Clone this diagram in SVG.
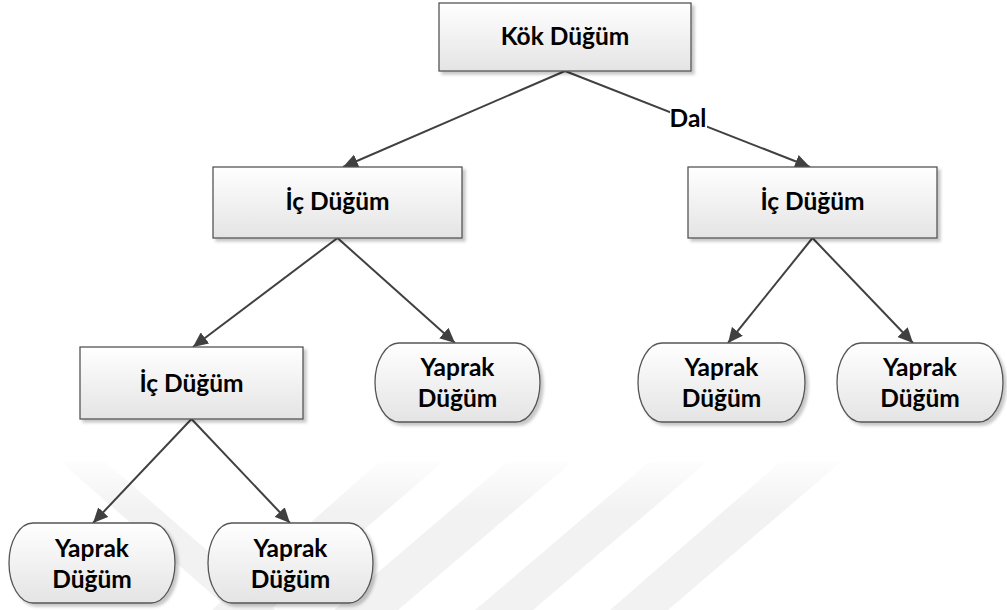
<svg xmlns="http://www.w3.org/2000/svg" width="1007" height="610" viewBox="0 0 1007 610">
  <defs>
    <linearGradient id="boxGrad" x1="0" y1="0" x2="0" y2="1">
      <stop offset="0" stop-color="#ffffff"/>
      <stop offset="1" stop-color="#e4e4e4"/>
    </linearGradient>
    <linearGradient id="wmGrad" gradientUnits="userSpaceOnUse" x1="0" y1="455" x2="0" y2="510">
      <stop offset="0" stop-color="#f2f2f2" stop-opacity="0"/>
      <stop offset="1" stop-color="#f2f2f2" stop-opacity="1"/>
    </linearGradient>
    <filter id="shadow" x="-10%" y="-10%" width="130%" height="140%">
      <feDropShadow dx="3" dy="3" stdDeviation="1.5" flood-color="#000000" flood-opacity="0.22"/>
    </filter>
    <marker id="arrow" markerUnits="userSpaceOnUse" markerWidth="16" markerHeight="14" refX="15" refY="7" orient="auto">
      <path d="M0,0 L15,7 L0,14 Z" fill="#404040"/>
    </marker>
  </defs>
  <style>
    .box { fill: url(#boxGrad); stroke: #555555; stroke-width: 1.3; filter: url(#shadow); }
    .lbl { font-family: Lato, "Open Sans", "Liberation Sans", sans-serif; font-weight: bold; font-size: 24.5px; fill: #000000; text-anchor: middle; }
    .edge { stroke: #404040; stroke-width: 2; fill: none; marker-end: url(#arrow); }
    .wm { fill: url(#wmGrad); }
  </style>
  <rect x="0" y="0" width="1007" height="610" fill="#ffffff"/>

  <g id="watermark">
    <polygon class="wm" points="61,462 106,462 275,610 230,610"/>
    <polygon class="wm" points="379,462 443,462 270,610 212,610"/>
    <polygon class="wm" points="507,462 572,462 398,610 334,610"/>
    <polygon class="wm" points="649,462 707,462 533,610 475,610"/>
    <polygon class="wm" points="780,462 841,462 668,610 610,610"/>
  </g>

  <g id="connectors">
    <line class="edge" x1="565" y1="71" x2="343" y2="167"/>
    <line class="edge" x1="565" y1="71" x2="810" y2="167"/>
    <line class="edge" x1="337.5" y1="238" x2="193" y2="347"/>
    <line class="edge" x1="337.5" y1="238" x2="455" y2="343"/>
    <line class="edge" x1="812.5" y1="238" x2="728" y2="343"/>
    <line class="edge" x1="812.5" y1="238" x2="913" y2="343"/>
    <line class="edge" x1="191.5" y1="419" x2="93" y2="523"/>
    <line class="edge" x1="191.5" y1="419" x2="290" y2="523"/>
    <rect x="670" y="107" width="37" height="25" fill="#ffffff"/>
    <text class="lbl" x="688" y="127">Dal</text>
  </g>

  <g id="root">
    <rect class="box" x="439" y="3" width="252" height="68"/>
    <text class="lbl" x="565" y="45">Kök Düğüm</text>
  </g>

  <g id="ic1">
    <rect class="box" x="213" y="167" width="249" height="71"/>
    <text class="lbl" x="337.5" y="210">İç Düğüm</text>
  </g>

  <g id="ic2">
    <rect class="box" x="688" y="167" width="249" height="71"/>
    <text class="lbl" x="812.5" y="210">İç Düğüm</text>
  </g>

  <g id="ic3">
    <rect class="box" x="80" y="347" width="223" height="72"/>
    <text class="lbl" x="191.5" y="392">İç Düğüm</text>
  </g>

  <g id="leaf1">
    <path class="box" d="M399,343 H516 A24,39.5 0 0 1 516,422 H399 A24,39.5 0 0 1 399,343 Z"/>
    <text class="lbl" x="457.5" y="376"><tspan x="457.5">Yaprak</tspan><tspan x="457.5" y="407">Düğüm</tspan></text>
  </g>

  <g id="leaf2">
    <path class="box" d="M662,343 H781 A24,39.5 0 0 1 781,422 H662 A24,39.5 0 0 1 662,343 Z"/>
    <text class="lbl" x="721.5" y="376"><tspan x="721.5">Yaprak</tspan><tspan x="721.5" y="407">Düğüm</tspan></text>
  </g>

  <g id="leaf3">
    <path class="box" d="M861,343 H979 A24,39.5 0 0 1 979,422 H861 A24,39.5 0 0 1 861,343 Z"/>
    <text class="lbl" x="920" y="376"><tspan x="920">Yaprak</tspan><tspan x="920" y="407">Düğüm</tspan></text>
  </g>

  <g id="leaf4">
    <path class="box" d="M33,523 H151 A24,40 0 0 1 151,603 H33 A24,40 0 0 1 33,523 Z"/>
    <text class="lbl" x="92" y="557"><tspan x="92">Yaprak</tspan><tspan x="92" y="587.5">Düğüm</tspan></text>
  </g>

  <g id="leaf5">
    <path class="box" d="M232,523 H349 A24,40 0 0 1 349,603 H232 A24,40 0 0 1 232,523 Z"/>
    <text class="lbl" x="290.5" y="557"><tspan x="290.5">Yaprak</tspan><tspan x="290.5" y="587.5">Düğüm</tspan></text>
  </g>
</svg>
